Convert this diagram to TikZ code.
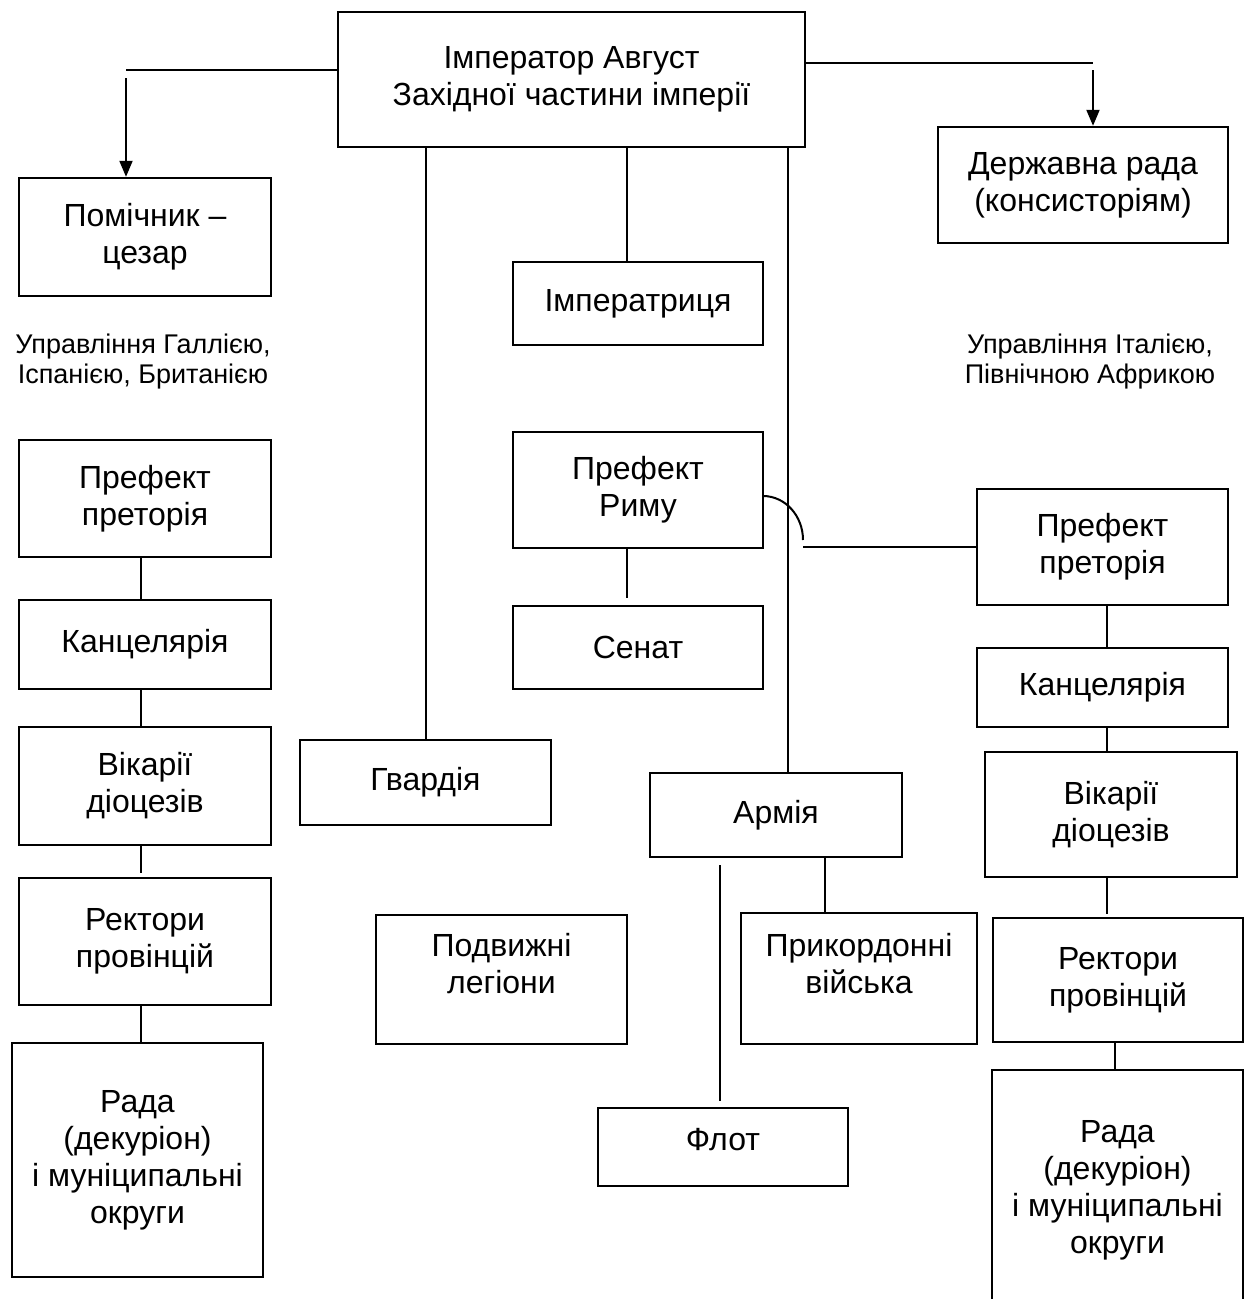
\documentclass[tikz,border=0pt]{standalone}
\usepackage{fontspec}
\setmainfont{Liberation Sans}
\usetikzlibrary{arrows.meta}
\begin{document}
\begin{tikzpicture}[x=1pt,y=-1pt,
  box/.style={draw, line width=2.4pt, rectangle, inner sep=0pt, align=center,
    font=\fontsize{32}{37}\selectfont},
  txt/.style={inner sep=0pt, align=center, font=\fontsize{32}{37}\selectfont},
  lbl/.style={inner sep=0pt, align=center, font=\fontsize{27}{30}\selectfont},
  conn/.style={line width=2pt},
  arr/.style={line width=2pt, -{Triangle[length=16pt,width=13pt]}}]
\useasboundingbox (0,0) rectangle (1244,1299);

% top level
\node[box, minimum width=467, minimum height=135] (emp) at (571.5,79.5)
  {Імператор Август\\Західної частини імперії};
\node[box, minimum width=252, minimum height=118] (pom) at (145,237) {Помічник –\\цезар};
\node[box, minimum width=290, minimum height=116] (dr) at (1083,185)
  {Державна рада\\(консисторіям)};

% centre column
\node[box, minimum width=250, minimum height=83] (imp) at (638,303.5) {Імператриця};
\node[box, minimum width=250, minimum height=116] (rome) at (638,490) {Префект\\Риму};
\node[box, minimum width=250, minimum height=83] (sen) at (638,647.5) {Сенат};
\node[box, minimum width=251, minimum height=85] (gv) at (425.5,782.5) {Гвардія};
\node[box, minimum width=252, minimum height=84] (arm) at (776,815) {Армія};
\node[box, minimum width=251, minimum height=129] (pl) at (501.5,979.5) {};
\node[txt] (plt) at (501.5,964) {Подвижні\\легіони};
\node[box, minimum width=236, minimum height=131] (pk) at (859,978.5) {};
\node[txt] (pkt) at (859,964) {Прикордонні\\війська};
\node[box, minimum width=250, minimum height=78] (fl) at (723,1147) {};
\node[txt] (flt) at (723,1140) {Флот};

% western provinces
\node[lbl] (labL) at (143,362) {Управління Галлією,\\Іспанією, Британією};
\node[box, minimum width=252, minimum height=117] (ppL) at (145,498.5) {Префект\\преторія};
\node[box, minimum width=252, minimum height=89] (kL) at (145,644.5) {Канцелярія};
\node[box, minimum width=252, minimum height=118] (vL) at (145,786) {Вікарії\\діоцезів};
\node[box, minimum width=252, minimum height=127] (rL) at (145,941.5) {Ректори\\провінцій};
\node[box, minimum width=251, minimum height=234] (radL) at (137.5,1160)
  {Рада\\(декуріон)\\і муніципальні\\округи};

% Italy and Africa
\node[lbl] (labR) at (1090,362) {Управління Італією,\\Північною Африкою};
\node[box, minimum width=251, minimum height=116] (ppR) at (1102.5,547) {Префект\\преторія};
\node[box, minimum width=251, minimum height=79] (kR) at (1102.5,687.5) {Канцелярія};
\node[box, minimum width=252, minimum height=125] (vR) at (1111,814.5) {Вікарії\\діоцезів};
\node[box, minimum width=250, minimum height=124] (rR) at (1118,980) {Ректори\\провінцій};
\node[inner sep=0pt, minimum width=251, minimum height=240, align=center,
  font=\fontsize{32}{37}\selectfont] (radR) at (1117.5,1190)
  {Рада\\(декуріон)\\і муніципальні\\округи};
\draw[line width=2.4pt] (radR.south west) -- (radR.north west) -- (radR.north east) -- (radR.south east);

% guide coordinates
\coordinate (yL) at (0,70);
\coordinate (yR) at (0,63);
\coordinate (cL) at (126,70);
\coordinate (aL) at (126,78);
\coordinate (cR) at (1093,63);
\coordinate (aR) at (1093,70);
\coordinate (xImp) at (627,0);
\coordinate (xArm) at (788,0);
\coordinate (xPk) at (825,0);
\coordinate (xFl) at (720,0);
\coordinate (xL) at (141,0);
\coordinate (xR) at (1107,0);
\coordinate (xR2) at (1115,0);
\coordinate (hopA) at (763,496);
\coordinate (hopB) at (803,547);

% connectors from the emperor
\draw[conn] (emp.west |- yL) -- (cL);
\draw[arr] (aL) -- (aL |- pom.north);
\draw[conn] (emp.east |- yR) -- (cR);
\draw[arr] (aR) -- (aR |- dr.north);
\draw[conn] (emp.south -| gv.north) -- (gv.north);
\draw[conn] (emp.south -| xImp) -- (imp.north -| xImp);
\draw[conn] (emp.south -| xArm) -- (arm.north -| xArm);

% centre links
\draw[conn, shorten >=7pt] (rome.south -| xImp) -- (sen.north -| xImp);
\draw[conn] (hopA) arc[start angle=-90, end angle=0, x radius=40, y radius=44];
\draw[conn] (hopB) -- (ppR.west);
\draw[conn] (arm.south -| xPk) -- (pk.north -| xPk);
\draw[conn, shorten <=7pt, shorten >=6pt] (arm.south -| xFl) -- (fl.north -| xFl);

% western chain
\draw[conn] (ppL.south -| xL) -- (kL.north -| xL);
\draw[conn] (kL.south -| xL) -- (vL.north -| xL);
\draw[conn, shorten >=4pt] (vL.south -| xL) -- (rL.north -| xL);
\draw[conn] (rL.south -| xL) -- (radL.north -| xL);

% southern chain
\draw[conn] (ppR.south -| xR) -- (kR.north -| xR);
\draw[conn] (kR.south -| xR) -- (vR.north -| xR);
\draw[conn, shorten >=3pt] (vR.south -| xR) -- (rR.north -| xR);
\draw[conn] (rR.south -| xR2) -- (radR.north -| xR2);
\end{tikzpicture}
\end{document}
